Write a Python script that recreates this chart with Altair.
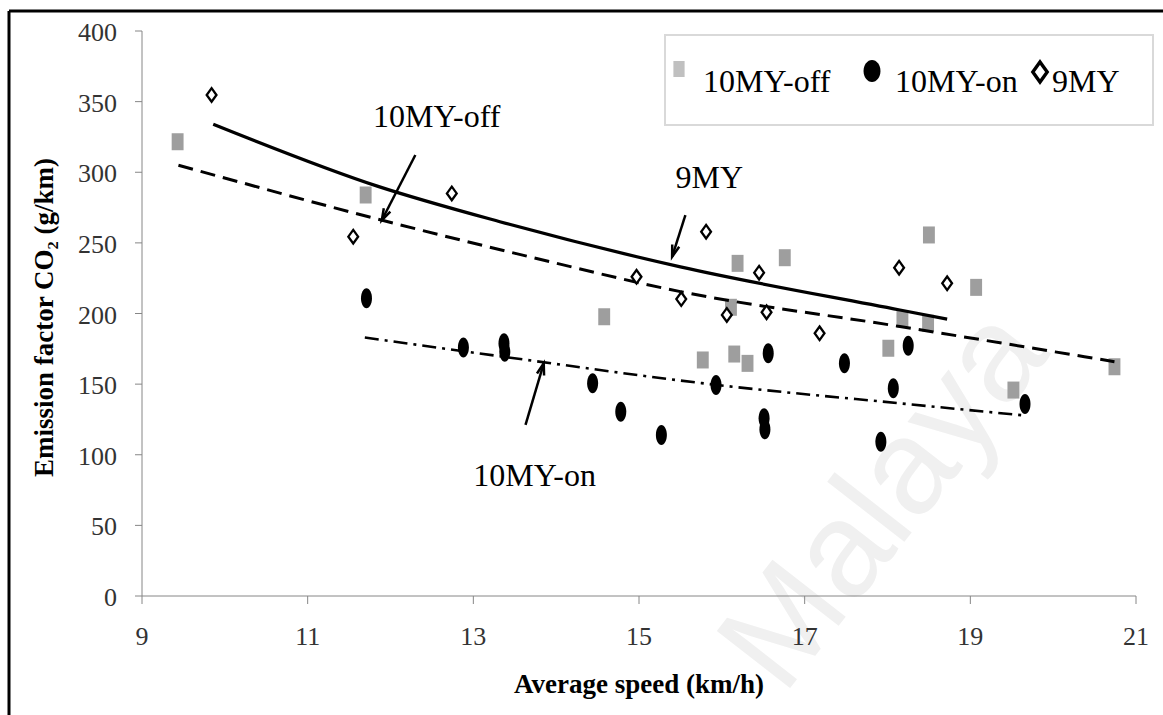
import altair as alt
import pandas as pd

# ---------------- data ----------------
off_speed = [9.43, 11.70, 14.58, 15.77, 16.11, 16.15, 16.19, 16.31, 16.76, 18.01, 18.18, 18.49, 18.50, 19.07, 19.52, 20.74]
off_ef = [321.6, 283.9, 197.7, 167.1, 204.4, 171.3, 235.5, 164.7, 239.5, 175.4, 195.9, 193.1, 255.6, 218.5, 145.8, 162.3]

on_speed = [11.71, 12.88, 13.37, 13.38, 14.44, 14.78, 15.27, 15.93, 16.51, 16.52, 16.56, 17.48, 17.92, 18.07, 18.25, 19.66]
on_ef = [210.8, 176.0, 178.9, 172.9, 150.6, 130.5, 114.0, 149.4, 125.8, 118.0, 171.8, 164.7, 109.2, 147.0, 177.2, 135.9]

my9_speed = [9.84, 11.55, 12.74, 14.97, 15.51, 15.81, 16.06, 16.45, 16.54, 17.18, 18.14, 18.72]
my9_ef = [354.7, 254.4, 285.0, 226.0, 210.2, 257.9, 199.0, 228.9, 200.9, 186.0, 232.4, 221.4]

trend_9my_speed = [9.86, 11.85, 13.32, 15.5, 18.15, 18.72]
trend_9my_ef = [334.0, 290.0, 265.0, 233.0, 202.5, 196.0]
trend_off_speed = [9.44, 11.9, 13.69, 15.5, 18.15, 20.74]
trend_off_ef = [305.0, 266.0, 240.0, 215.5, 190.8, 165.9]
trend_on_speed = [11.69, 13.35, 15.93, 18.15, 19.62]
trend_on_ef = [183.0, 169.5, 149.5, 136.4, 128.0]

x_ticks = [9, 11, 13, 15, 17, 19, 21]
y_ticks = [0, 50, 100, 150, 200, 250, 300, 350, 400]
x_title = "Average speed (km/h)"
y_title = "Emission factor CO₂ (g/km)"

series_names = ["10MY-off", "10MY-on", "9MY"]

# annotation labels and arrows (data coordinates)
label_text = ["10MY-off", "9MY", "10MY-on"]
label_x = [11.79, 15.44, 13.00]
label_y = [331.8, 288.6, 77.9]
arrow_x0 = [12.30, 15.56, 13.63]
arrow_y0 = [312.2, 269.7, 121.1]
arrow_x1 = [11.895, 15.40, 13.85]
arrow_y1 = [266.0, 240.2, 164.7]
arrow_angle = [207, 198, 16]

# ---------------- layout ----------------
W, H = 994, 565
LEFT, TOP = 142, 31
SERIF = "Liberation Serif"
AXIS_GRAY = "#868686"

xs = alt.Scale(domain=[9, 21], nice=False, zero=False)
ys = alt.Scale(domain=[0, 400], nice=False, zero=False)


def X(field):
    return alt.X(field, type="quantitative", scale=xs, axis=None)


def Y(field):
    return alt.Y(field, type="quantitative", scale=ys, axis=None)


one = pd.DataFrame({"a": [0]})

SQUARE = "M-0.7,-1L0.7,-1L0.7,1L-0.7,1Z"
ELLIPSE = "M0,-1A0.55,1,0,1,1,0,1A0.55,1,0,1,1,0,-1Z"
DIAMOND = "M0,-1L0.72,0L0,1L-0.72,0Z"
ARROWHEAD = "M-0.6,1.9L0,0L0.6,1.9"

# watermark
watermark = alt.Chart(one).mark_text(text="Malaya", font="Liberation Sans", fontSize=135,
                                     color="#f0f0f0", angle=308, align="center",
                                     baseline="middle").encode(
    x=alt.value(885 - LEFT), y=alt.value(500 - TOP))

# frame lines
frame_top = alt.Chart(one).mark_rule(color="black", strokeWidth=3).encode(
    x=alt.value(-LEFT + 9), x2=alt.value(1163 - LEFT), y=alt.value(11 - TOP))
frame_left = alt.Chart(one).mark_rule(color="black", strokeWidth=3).encode(
    x=alt.value(9 - LEFT), y=alt.value(11 - TOP), y2=alt.value(715 - TOP))

# ---------------- axes drawn through the scales ----------------
xt_df = pd.DataFrame({"v": x_ticks})
yt_df = pd.DataFrame({"v": y_ticks})
x_domain = alt.Chart(one).mark_rule(color=AXIS_GRAY, strokeWidth=1).encode(
    x=alt.value(0), x2=alt.value(W), y=alt.value(H))
y_domain = alt.Chart(one).mark_rule(color=AXIS_GRAY, strokeWidth=1).encode(
    x=alt.value(0), y=alt.value(0), y2=alt.value(H))
x_tick_marks = alt.Chart(xt_df).mark_rule(color=AXIS_GRAY, strokeWidth=1).encode(
    x=X("v"), y=alt.value(H), y2=alt.value(H + 8))
y_tick_marks = alt.Chart(yt_df).mark_rule(color=AXIS_GRAY, strokeWidth=1).encode(
    y=Y("v"), x=alt.value(-7), x2=alt.value(0))
x_labels = alt.Chart(xt_df).mark_text(font=SERIF, fontSize=26, color="#333333",
                                      align="center", baseline="alphabetic").encode(
    x=X("v"), y=alt.value(645 - TOP), text=alt.Text("v:Q", format="d"))
y_labels = alt.Chart(yt_df).mark_text(font=SERIF, fontSize=26, color="#333333",
                                      align="right", baseline="alphabetic", dy=10).encode(
    y=Y("v"), x=alt.value(117 - LEFT), text=alt.Text("v:Q", format="d"))
x_title_mark = alt.Chart(one).mark_text(text=x_title, font=SERIF, fontSize=27,
                                        fontWeight="bold", color="black", align="center",
                                        baseline="alphabetic").encode(
    x=alt.value(W / 2), y=alt.value(693 - TOP))
y_title_mark = alt.Chart(one).mark_text(text=y_title, font=SERIF, fontSize=27,
                                        fontWeight="bold", color="black", align="center",
                                        baseline="alphabetic", angle=270).encode(
    x=alt.value(53 - LEFT), y=alt.value(H / 2 + 4))

# legend box
legend_box = alt.Chart(one).mark_rect(fill="white", stroke="#d9d9d9", strokeWidth=2).encode(
    x=alt.value(665 - LEFT), x2=alt.value(1153 - LEFT),
    y=alt.value(35 - TOP), y2=alt.value(125 - TOP))


# trend lines
def trend(xv, yv, dash, width):
    df = pd.DataFrame({"speed": xv, "ef": yv})
    kw = dict(color="black", strokeWidth=width, interpolate="monotone")
    if dash:
        kw["strokeDash"] = dash
    return alt.Chart(df).mark_line(**kw).encode(x=X("speed"), y=Y("ef"))


line_9my = trend(trend_9my_speed, trend_9my_ef, None, 3.2)
line_off = trend(trend_off_speed, trend_off_ef, [15, 8], 3)
line_on = trend(trend_on_speed, trend_on_ef, [14, 6, 3, 6], 2.6)

# points
off_df = pd.DataFrame({"speed": off_speed, "ef": off_ef, "series": series_names[0]})
on_df = pd.DataFrame({"speed": on_speed, "ef": on_ef, "series": series_names[1]})
my9_df = pd.DataFrame({"speed": my9_speed, "ef": my9_ef, "series": series_names[2]})

pts_off = alt.Chart(off_df).mark_point(shape=SQUARE, size=289, filled=True, fill="#9e9e9e",
                                        opacity=1, strokeWidth=0).encode(x=X("speed"), y=Y("ef"))
pts_on = alt.Chart(on_df).mark_point(shape=ELLIPSE, size=400, filled=True, fill="black",
                                      opacity=1, strokeWidth=0).encode(x=X("speed"), y=Y("ef"))
pts_9 = alt.Chart(my9_df).mark_point(shape=DIAMOND, size=185, filled=False, fill="white",
                                      fillOpacity=1, stroke="black", strokeWidth=2.3,
                                      opacity=1).encode(x=X("speed"), y=Y("ef"))

# annotations
ann_df = pd.DataFrame({"label": label_text, "lx": label_x, "ly": label_y,
                       "x0": arrow_x0, "y0": arrow_y0, "x1": arrow_x1, "y1": arrow_y1,
                       "ang": arrow_angle})
ann_text = alt.Chart(ann_df).mark_text(font=SERIF, fontSize=32, color="black",
                                       align="left", baseline="alphabetic").encode(
    x=X("lx"), y=Y("ly"), text="label:N")
ann_shaft = alt.Chart(ann_df).mark_rule(color="black", strokeWidth=2.5).encode(
    x=X("x0"), y=Y("y0"), x2="x1:Q", y2="y1:Q")
ann_head = alt.Chart(ann_df).mark_point(shape=ARROWHEAD, size=150, filled=False,
                                        stroke="black", strokeWidth=2.5, opacity=1).encode(
    x=X("x1"), y=Y("y1"), angle=alt.Angle("ang:Q", scale=None))

# legend entries
leg_sq = alt.Chart(one).mark_point(shape=SQUARE, size=256, filled=True, fill="#c0c0c0",
                                   opacity=1, strokeWidth=0).encode(
    x=alt.value(679 - LEFT), y=alt.value(69 - TOP))
leg_ci = alt.Chart(one).mark_point(shape="M0,-1A0.77,1,0,1,1,0,1A0.77,1,0,1,1,0,-1Z",
                                   size=484, filled=True, fill="black", opacity=1,
                                   strokeWidth=0).encode(
    x=alt.value(872 - LEFT), y=alt.value(71 - TOP))
leg_di = alt.Chart(one).mark_point(shape=DIAMOND, size=400, filled=False, fill="white",
                                   fillOpacity=1, stroke="black", strokeWidth=3.4,
                                   opacity=1).encode(
    x=alt.value(1040 - LEFT), y=alt.value(72 - TOP))
leg_txt_df = pd.DataFrame({"t": series_names, "px": [703 - LEFT, 895 - LEFT, 1052 - LEFT]})
leg_txt = alt.Chart(leg_txt_df).mark_text(font=SERIF, fontSize=32, color="black",
                                          align="left", baseline="alphabetic").encode(
    x=alt.X("px:Q", scale=None), y=alt.value(92 - TOP), text="t:N")

chart = alt.layer(
    watermark, frame_top, frame_left,
    x_domain, y_domain, x_tick_marks, y_tick_marks, x_labels, y_labels,
    x_title_mark, y_title_mark, legend_box,
    pts_off, line_9my, line_off, line_on, pts_on, pts_9,
    ann_shaft, ann_head, ann_text,
    leg_sq, leg_ci, leg_di, leg_txt,
).properties(
    width=W, height=H,
    padding={"left": LEFT, "top": TOP, "right": 1163 - LEFT - W, "bottom": 715 - TOP - H},
    autosize=alt.AutoSizeParams(type="none"),
    background="white",
).configure_view(stroke=None)

chart.save("out.html", embed_options={"renderer": "svg", "actions": False})
